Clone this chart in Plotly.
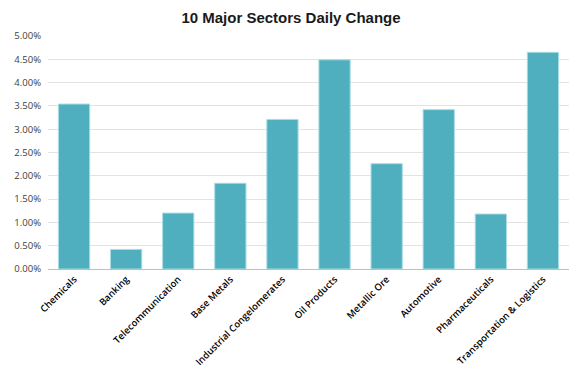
import plotly.graph_objects as go

categories = ["Chemicals", "Banking", "Telecommunication", "Base Metals",
              "Industrial Congelomerates", "Oil Products", "Metallic Ore",
              "Automotive", "Pharmaceuticals", "Transportation & Logistics"]
values = [0.0354, 0.0042, 0.0120, 0.0184, 0.0321, 0.0449, 0.0226, 0.0342, 0.0118, 0.0465]
tick_vals = [0, 0.005, 0.01, 0.015, 0.02, 0.025, 0.03, 0.035, 0.04, 0.045, 0.05]
tick_text = ["0.00%", "0.50%", "1.00%", "1.50%", "2.00%", "2.50%", "3.00%",
             "3.50%", "4.00%", "4.50%", "5.00%"]

fig = go.Figure(go.Bar(
    x=categories, y=values,
    marker=dict(color="#4FAFBF", line=dict(color="#A9DCE4", width=1)),
))

fig.update_layout(
    width=582, height=373,
    margin=dict(l=48, r=13, t=36, b=104),
    paper_bgcolor="white", plot_bgcolor="white",
    bargap=0.4,
    showlegend=False,
    title=dict(text="<b>10 Major Sectors Daily Change</b>", x=0.5, xanchor="center",
               y=0.953, yanchor="middle",
               font=dict(family="Liberation Sans, Arial", size=15, color="#1a1a1a")),
    font=dict(family="Open Sans, Lato", color="#404040"),
)
fig.update_yaxes(range=[0, 0.05], tickvals=tick_vals, ticktext=tick_text,
                 showgrid=True, gridcolor="#E3E3E3", gridwidth=1,
                 zeroline=False, showline=False, automargin=False,
                 tickfont=dict(size=9.5, color="#404040"), ticks="", ticklabelstandoff=6)
fig.update_xaxes(tickangle=-45, showline=True, linecolor="#BFBFBF", linewidth=1,
                 automargin=False,
                 tickfont=dict(size=9.5, color="#000000", family="Open Sans", weight=600),
                 ticks="")

fig.write_html("out.html", config={"displayModeBar": False},
               post_script="document.body.style.margin='0';document.body.style.padding='0';")
